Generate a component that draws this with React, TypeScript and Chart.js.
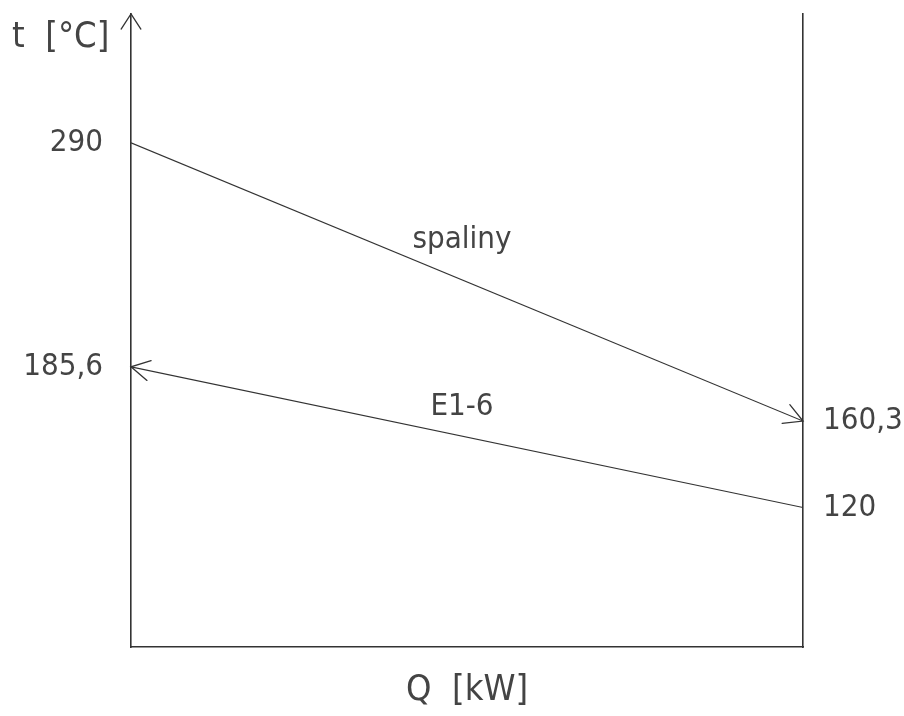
import React, { useEffect, useRef } from "react";
import { Chart, registerables } from "chart.js";

Chart.register(...registerables);

// Heat duty axis (relative, start -> end of the exchanger)
const heatDuty = [0, 1];
// Flue gas ("spaliny") temperatures, °C
const spaliny = [290, 160.3];
// Heated medium E1-6 temperatures, °C (flows from right to left)
const e16 = [185.6, 120];
// Temperatures labelled on each side of the diagram
const leftTicks = [290, 185.6];
const rightTicks = [160.3, 120];

const FONT = "'DejaVu Sans Condensed', 'Liberation Sans Narrow', sans-serif";
const INK = "#444444";
const LINE = "#333333";

const fmt = (v: number) => String(v).replace(".", ",");

function drawArrowHead(ctx: CanvasRenderingContext2D, tipX: number, tipY: number, fromX: number, fromY: number, len: number, half: number) {
  const ang = Math.atan2(tipY - fromY, tipX - fromX);
  ctx.beginPath();
  ctx.moveTo(tipX - len * Math.cos(ang - half), tipY - len * Math.sin(ang - half));
  ctx.lineTo(tipX, tipY);
  ctx.lineTo(tipX - len * Math.cos(ang + half), tipY - len * Math.sin(ang + half));
  ctx.stroke();
}

const decorations = {
  id: "decorations",
  afterDraw(chart: any) {
    const { ctx, chartArea } = chart;
    ctx.save();
    ctx.strokeStyle = LINE;
    ctx.lineWidth = 1.3;
    ctx.lineCap = "round";

    // arrow at the top of the temperature axis
    drawArrowHead(ctx, chartArea.left, chartArea.top, chartArea.left, chartArea.top + 100, 18, 0.58);

    // flow direction arrows and stream names
    chart.data.datasets.forEach((ds: any, i: number) => {
      const meta = chart.getDatasetMeta(i);
      const pts = meta.data;
      if (pts.length < 2) return;
      const a = pts[0];
      const b = pts[pts.length - 1];
      if (ds.arrowAt === "end") drawArrowHead(ctx, b.x, b.y, a.x, a.y, 21, 0.5);
      else drawArrowHead(ctx, a.x, a.y, b.x, b.y, 21, 0.5);

      const mx = (a.x + b.x) / 2;
      const my = (a.y + b.y) / 2;
      ctx.fillStyle = INK;
      ctx.font = `31px ${FONT}`;
      ctx.textAlign = "center";
      ctx.textBaseline = "middle";
      ctx.fillText(ds.label, mx - 5, my - ds.labelLift);
    });

    // temperature axis title
    ctx.fillStyle = INK;
    ctx.font = `36px ${FONT}`;
    ctx.textAlign = "left";
    ctx.textBaseline = "middle";
    ctx.fillText("t  [°C]", 12, 38);
    ctx.restore();
  },
};

export default function App() {
  const ref = useRef<HTMLCanvasElement | null>(null);

  useEffect(() => {
    if (!ref.current) return;
    const yRange = { min: 55, max: 350 };
    const noPad = (s: any) => {
      s.paddingTop = 0;
      s.paddingBottom = 0;
      s.paddingLeft = 0;
      s.paddingRight = 0;
    };
    const chart = new Chart(ref.current, {
      type: "line",
      data: {
        datasets: [
          {
            label: "spaliny",
            data: heatDuty.map((q, i) => ({ x: q, y: spaliny[i] })),
            borderColor: LINE,
            borderWidth: 1.2,
            pointRadius: 0,
            yAxisID: "y",
            arrowAt: "end",
            labelLift: 42,
          } as any,
          {
            label: "E1-6",
            data: heatDuty.map((q, i) => ({ x: q, y: e16[i] })),
            borderColor: LINE,
            borderWidth: 1.2,
            pointRadius: 0,
            yAxisID: "y",
            arrowAt: "start",
            labelLift: 30,
          } as any,
        ],
      },
      options: {
        animation: false,
        responsive: true,
        maintainAspectRatio: false,
        layout: { padding: { top: 14, left: 0, right: 0, bottom: 0 } },
        plugins: { legend: { display: false }, tooltip: { enabled: false }, title: { display: false } },
        scales: {
          x: {
            type: "linear",
            min: 0,
            max: 1,
            grid: { display: false, drawTicks: false },
            border: { display: true, color: LINE, width: 1.6 },
            ticks: { display: false },
            title: {
              display: true,
              text: "Q  [kW]",
              color: INK,
              font: { family: FONT, size: 36 },
              padding: { top: 0, bottom: 4 },
            },
            afterFit: (s: any) => { s.height = 69; noPad(s); },
          },
          y: {
            type: "linear",
            position: "left",
            ...yRange,
            grid: { display: false, drawTicks: false },
            border: { display: true, color: LINE, width: 1.6 },
            afterBuildTicks: (s: any) => { s.ticks = leftTicks.map((v) => ({ value: v })); },
            ticks: {
              color: INK,
              font: { family: FONT, size: 31 },
              padding: 28,
              callback: (v: any) => fmt(Number(v)),
            },
            afterFit: (s: any) => { s.width = 131; noPad(s); },
          },
          y2: {
            type: "linear",
            position: "right",
            ...yRange,
            grid: { display: false, drawTicks: false },
            border: { display: true, color: LINE, width: 1.6 },
            afterBuildTicks: (s: any) => { s.ticks = rightTicks.map((v) => ({ value: v })); },
            ticks: {
              color: INK,
              font: { family: FONT, size: 31 },
              padding: 20,
              callback: (v: any) => fmt(Number(v)),
            },
            afterFit: (s: any) => { s.width = 101; noPad(s); },
          },
        },
      },
      plugins: [decorations],
    });
    return () => chart.destroy();
  }, []);

  return (
    <div style={{ position: "absolute", left: 0, top: 0, width: 904, height: 716, background: "#ffffff" }}>
      <canvas ref={ref} />
    </div>
  );
}
